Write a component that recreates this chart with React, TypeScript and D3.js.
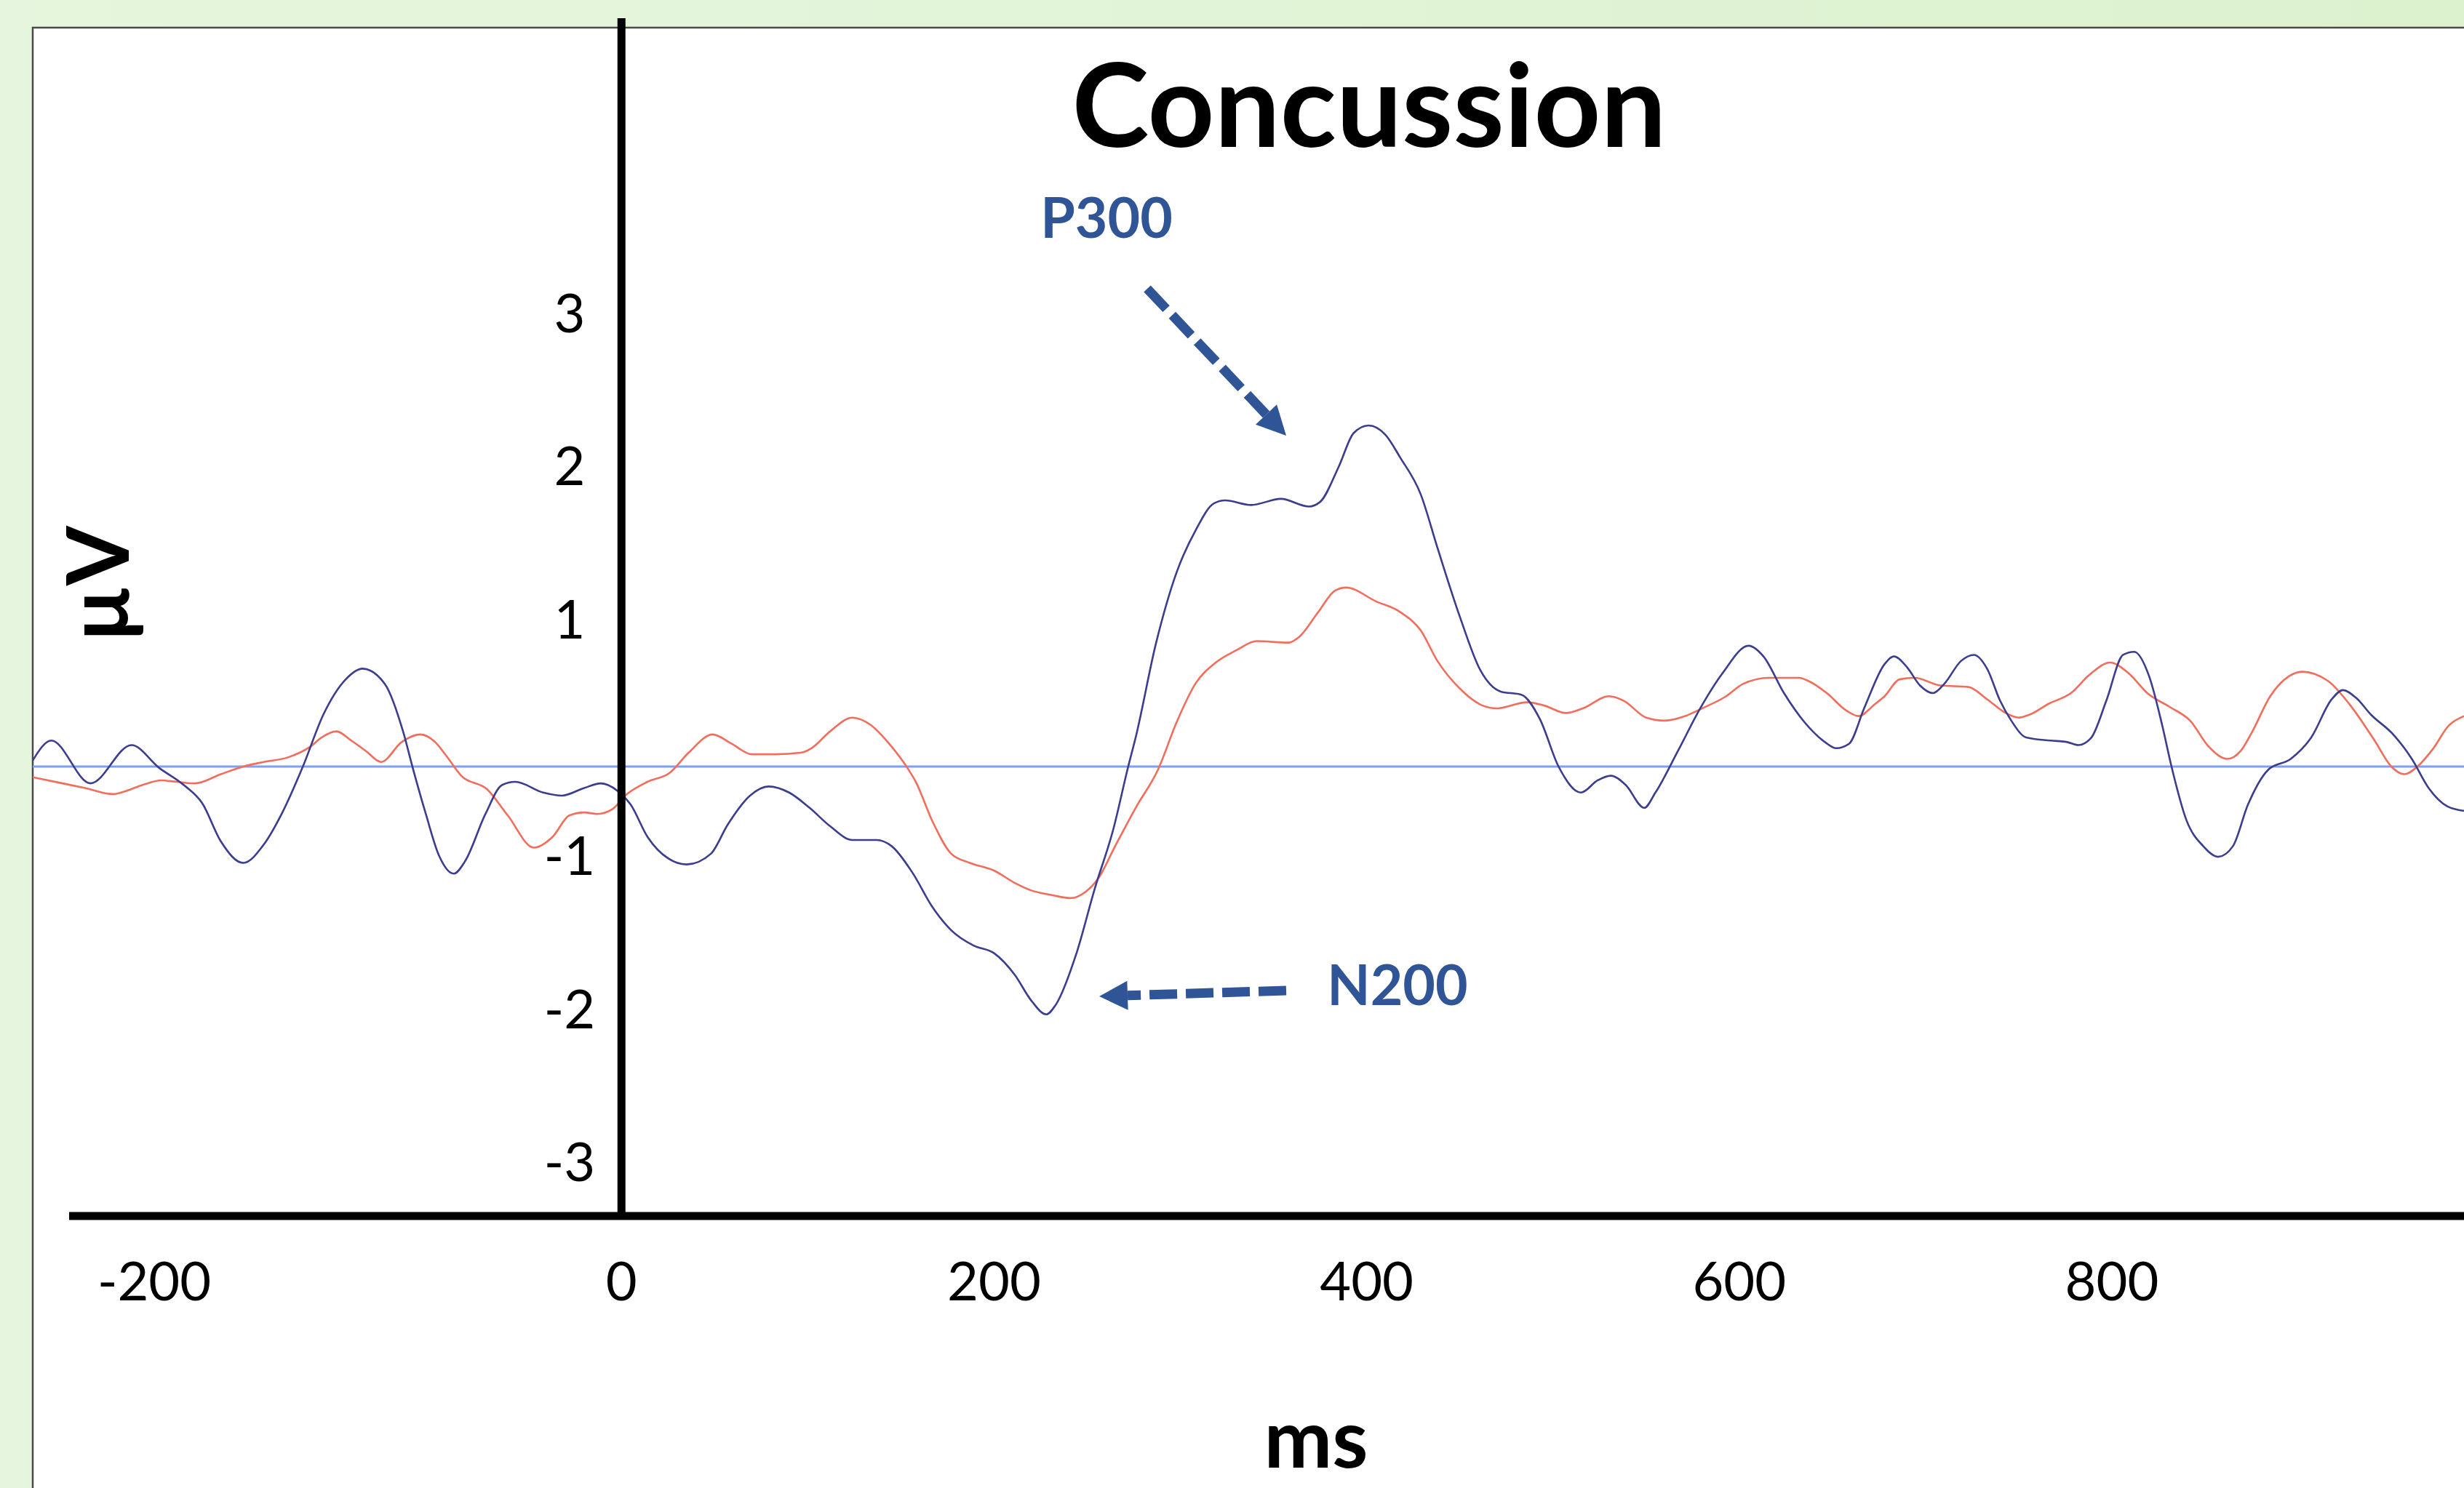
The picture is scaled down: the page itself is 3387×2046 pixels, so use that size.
import React, { useEffect, useRef } from "react";
import * as d3 from "d3";

// Concussion group ERP (blue) and comparison (red)
const blueMs = [
  -316, -306, -285, -263, -248, -235, -225, -215, -203, -192, -182, -171, -160, -148, -139, -127, -117, -112, -105, -98,
  -90, -84, -73, -64, -57, -42, -32, -20, -11, -2, 5, 14, 25, 35, 48, 57, 69, 79, 90, 101,
  112, 124, 137, 145, 156, 167, 177, 189, 200, 211, 220, 228, 233, 244, 254, 264, 272, 276, 287, 298,
  308, 318, 324, 338, 354, 369, 375, 385, 393, 401, 410, 418, 429, 438, 450, 461, 472, 483, 493, 503,
  515, 524, 531, 539, 549, 555, 567, 579, 591, 605, 613, 624, 635, 646, 652, 659, 667, 678, 683, 690,
  697, 704, 710, 719, 726, 733, 740, 746, 754, 767, 776, 782, 789, 797, 806, 812, 820, 827, 832, 840,
  849, 857, 865, 873, 884, 896, 907, 918, 924, 931, 939, 951, 961, 970, 980, 989,
];
const blueUv = [
  0.04, 0.17, -0.11, 0.14, -0.01, -0.12, -0.24, -0.49, -0.63, -0.51, -0.3, 0.0, 0.34, 0.57, 0.64, 0.54, 0.22, -0.01, -0.31, -0.58,
  -0.7, -0.62, -0.31, -0.12, -0.1, -0.17, -0.19, -0.14, -0.11, -0.16, -0.25, -0.46, -0.6, -0.64, -0.57, -0.38, -0.19, -0.13, -0.17, -0.27,
  -0.39, -0.48, -0.48, -0.52, -0.69, -0.92, -1.07, -1.17, -1.22, -1.36, -1.53, -1.62, -1.56, -1.23, -0.8, -0.41, 0.0, 0.19, 0.81, 1.27,
  1.54, 1.72, 1.74, 1.71, 1.75, 1.7, 1.73, 1.96, 2.18, 2.23, 2.17, 2.02, 1.78, 1.43, 0.98, 0.63, 0.49, 0.47, 0.31, 0.0,
  -0.17, -0.09, -0.06, -0.12, -0.27, -0.17, 0.1, 0.38, 0.61, 0.79, 0.72, 0.48, 0.29, 0.16, 0.12, 0.15, 0.38, 0.67, 0.72, 0.65,
  0.53, 0.48, 0.54, 0.69, 0.73, 0.64, 0.43, 0.3, 0.19, 0.17, 0.16, 0.14, 0.19, 0.43, 0.73, 0.75, 0.59, 0.27, 0.0, -0.35,
  -0.52, -0.59, -0.52, -0.25, -0.02, 0.05, 0.19, 0.44, 0.5, 0.45, 0.34, 0.21, 0.05, -0.14, -0.26, -0.29,
];

const redMs = [
  -316, -300, -288, -273, -266, -257, -247, -239, -229, -215, -203, -192, -179, -167, -161, -153, -145, -137, -129, -118,
  -108, -100, -94, -86, -72, -61, -47, -37, -28, -20, -13, -5, 3, 14, 26, 36, 49, 59, 70, 83,
  96, 102, 112, 124, 134, 145, 153, 158, 167, 177, 187, 200, 211, 220, 231, 241, 249, 256, 265, 276,
  288, 298, 308, 319, 330, 341, 358, 364, 374, 383, 389, 405, 418, 429, 438, 450, 462, 470, 486, 495,
  507, 516, 530, 538, 550, 560, 571, 580, 593, 602, 616, 632, 637, 647, 657, 664, 673, 678, 686, 694,
  708, 723, 733, 743, 750, 756, 766, 778, 788, 799, 809, 819, 831, 842, 852, 862, 869, 875, 885, 895,
  902, 916, 928, 941, 950, 957, 964, 972, 981, 989,
];
const redUv = [
  -0.07, -0.11, -0.14, -0.18, -0.16, -0.12, -0.09, -0.1, -0.11, -0.05, 0.0, 0.03, 0.06, 0.13, 0.19, 0.23, 0.17, 0.1, 0.03, 0.16,
  0.21, 0.16, 0.07, -0.06, -0.15, -0.32, -0.53, -0.46, -0.32, -0.3, -0.31, -0.28, -0.18, -0.1, -0.04, 0.09, 0.21, 0.15, 0.08, 0.08,
  0.09, 0.12, 0.23, 0.32, 0.27, 0.13, 0.0, -0.1, -0.36, -0.57, -0.63, -0.68, -0.76, -0.81, -0.84, -0.86, -0.82, -0.73, -0.52, -0.27,
  -0.02, 0.29, 0.54, 0.68, 0.76, 0.82, 0.81, 0.85, 1.01, 1.15, 1.17, 1.08, 1.01, 0.89, 0.69, 0.51, 0.4, 0.38, 0.42, 0.4,
  0.35, 0.38, 0.46, 0.43, 0.32, 0.3, 0.33, 0.38, 0.46, 0.54, 0.58, 0.58, 0.56, 0.48, 0.37, 0.33, 0.41, 0.46, 0.57, 0.58,
  0.53, 0.52, 0.44, 0.35, 0.32, 0.34, 0.41, 0.48, 0.6, 0.68, 0.61, 0.48, 0.39, 0.3, 0.13, 0.05, 0.1, 0.22, 0.46, 0.59,
  0.62, 0.56, 0.4, 0.17, 0.0, -0.05, 0.0, 0.11, 0.27, 0.33,
];

const xTicks = [-200, 0, 200, 400, 600, 800];
const yTicks = [3, 2, 1, -1, -2, -3];

const W = 3387;
const H = 2046;
const FONT = "Lato, 'Open Sans', sans-serif";
const NOTE_BLUE = "#2f5597";

const App = () => {
  const svgRef = useRef<SVGSVGElement | null>(null);

  useEffect(() => {
    if (!svgRef.current) return;
    const svg = d3.select(svgRef.current);
    svg.selectAll("*").remove();

    // panel edges
    const panelLeft = 45;
    const panelTop = 38;

    const x = d3.scaleLinear().domain([-316, 989]).range([panelLeft, W]);
    const y = d3.scaleLinear().domain([-3, 3]).range([1685, 423]);

    const defs = svg.append("defs");
    const grad = defs
      .append("linearGradient")
      .attr("id", "bg")
      .attr("x1", "0")
      .attr("y1", "0")
      .attr("x2", "1")
      .attr("y2", "0");
    grad.append("stop").attr("offset", "0%").attr("stop-color", "#e6f6de");
    grad.append("stop").attr("offset", "100%").attr("stop-color", "#dcf2cf");

    defs
      .append("clipPath")
      .attr("id", "plotClip")
      .append("rect")
      .attr("x", panelLeft)
      .attr("y", panelTop)
      .attr("width", W - panelLeft)
      .attr("height", H - panelTop);

    // background + white panel
    svg.append("rect").attr("width", W).attr("height", H).attr("fill", "url(#bg)");
    svg
      .append("rect")
      .attr("x", panelLeft)
      .attr("y", panelTop)
      .attr("width", W - panelLeft + 10)
      .attr("height", H - panelTop + 10)
      .attr("fill", "#ffffff")
      .attr("stroke", "#4a4a4a")
      .attr("stroke-width", 2.5);

    // zero line
    svg
      .append("line")
      .attr("x1", panelLeft)
      .attr("x2", W)
      .attr("y1", y(0))
      .attr("y2", y(0))
      .attr("stroke", "#7f9ef6")
      .attr("stroke-width", 3);

    // curves
    const line = d3
      .line<[number, number]>()
      .x((d) => x(d[0]))
      .y((d) => y(d[1]))
      .curve(d3.curveMonotoneX);

    const plot = svg.append("g").attr("clip-path", "url(#plotClip)");
    plot
      .append("path")
      .attr("d", line(redMs.map((t, i) => [t, redUv[i]] as [number, number])))
      .attr("fill", "none")
      .attr("stroke", "#f26e5c")
      .attr("stroke-width", 2.6);
    plot
      .append("path")
      .attr("d", line(blueMs.map((t, i) => [t, blueUv[i]] as [number, number])))
      .attr("fill", "none")
      .attr("stroke", "#3b3d8e")
      .attr("stroke-width", 2.6);

    // axes drawn as thick lines
    svg
      .append("line")
      .attr("x1", x(0))
      .attr("x2", x(0))
      .attr("y1", 25)
      .attr("y2", 1672)
      .attr("stroke", "#000")
      .attr("stroke-width", 11);
    svg
      .append("line")
      .attr("x1", 95)
      .attr("x2", W)
      .attr("y1", 1672)
      .attr("y2", 1672)
      .attr("stroke", "#000")
      .attr("stroke-width", 11);

    // y tick labels (hand-placed in the source: negatives sit higher)
    yTicks.forEach((v) => {
      svg
        .append("text")
        .attr("x", 783)
        .attr("y", y(v) + (v > 0 ? 8 : -87) + 26)
        .attr("text-anchor", "middle")
        .attr("font-family", FONT)
        .attr("font-size", 74)
        .attr("fill", "#000")
        .text(`${v}`);
    });

    // x tick labels
    xTicks.forEach((t) => {
      svg
        .append("text")
        .attr("x", x(t) + (t < 0 ? -130 : 0))
        .attr("y", 1788)
        .attr("text-anchor", "middle")
        .attr("font-family", FONT)
        .attr("font-size", 74)
        .attr("fill", "#000")
        .text(`${t}`);
    });

    // title and axis titles
    svg
      .append("text")
      .attr("x", 1882)
      .attr("y", 202)
      .attr("text-anchor", "middle")
      .attr("font-family", FONT)
      .attr("font-weight", 700)
      .attr("font-size", 160)
      .attr("fill", "#000")
      .text("Concussion");

    svg
      .append("text")
      .attr("transform", "translate(177, 803) rotate(-90)")
      .attr("text-anchor", "middle")
      .attr("font-family", FONT)
      .attr("font-weight", 700)
      .attr("font-size", 118)
      .attr("fill", "#000")
      .text("µV");

    svg
      .append("text")
      .attr("x", 1809)
      .attr("y", 2018)
      .attr("text-anchor", "middle")
      .attr("font-family", FONT)
      .attr("font-weight", 700)
      .attr("font-size", 112)
      .attr("fill", "#000")
      .text("ms");

    // annotations
    const arrow = (tail: number[], tip: number[], headLen: number, halfW: number) => {
      const dx = tip[0] - tail[0];
      const dy = tip[1] - tail[1];
      const len = Math.hypot(dx, dy);
      const ux = dx / len;
      const uy = dy / len;
      const bx = tip[0] - ux * headLen;
      const by = tip[1] - uy * headLen;
      svg
        .append("line")
        .attr("x1", tail[0])
        .attr("y1", tail[1])
        .attr("x2", bx)
        .attr("y2", by)
        .attr("stroke", NOTE_BLUE)
        .attr("stroke-width", 13)
        .attr("stroke-dasharray", "38 12");
      svg
        .append("polygon")
        .attr(
          "points",
          `${tip[0]},${tip[1]} ${bx - uy * halfW},${by + ux * halfW} ${bx + uy * halfW},${by - ux * halfW}`
        )
        .attr("fill", NOTE_BLUE);
    };

    svg
      .append("text")
      .attr("x", 1521)
      .attr("y", 327)
      .attr("text-anchor", "middle")
      .attr("font-family", FONT)
      .attr("font-weight", 700)
      .attr("font-size", 77)
      .attr("fill", NOTE_BLUE)
      .text("P300");
    arrow([1577, 397], [1768, 599], 40, 20);

    svg
      .append("text")
      .attr("x", 1921)
      .attr("y", 1382)
      .attr("text-anchor", "middle")
      .attr("font-family", FONT)
      .attr("font-weight", 700)
      .attr("font-size", 77)
      .attr("fill", NOTE_BLUE)
      .text("N200");
    arrow([1768, 1362], [1511, 1370], 39, 20);
  }, []);

  return (
    <svg
      ref={svgRef}
      width={W}
      height={H}
      style={{ position: "absolute", left: 0, top: 0, display: "block" }}
    />
  );
};

export default App;
